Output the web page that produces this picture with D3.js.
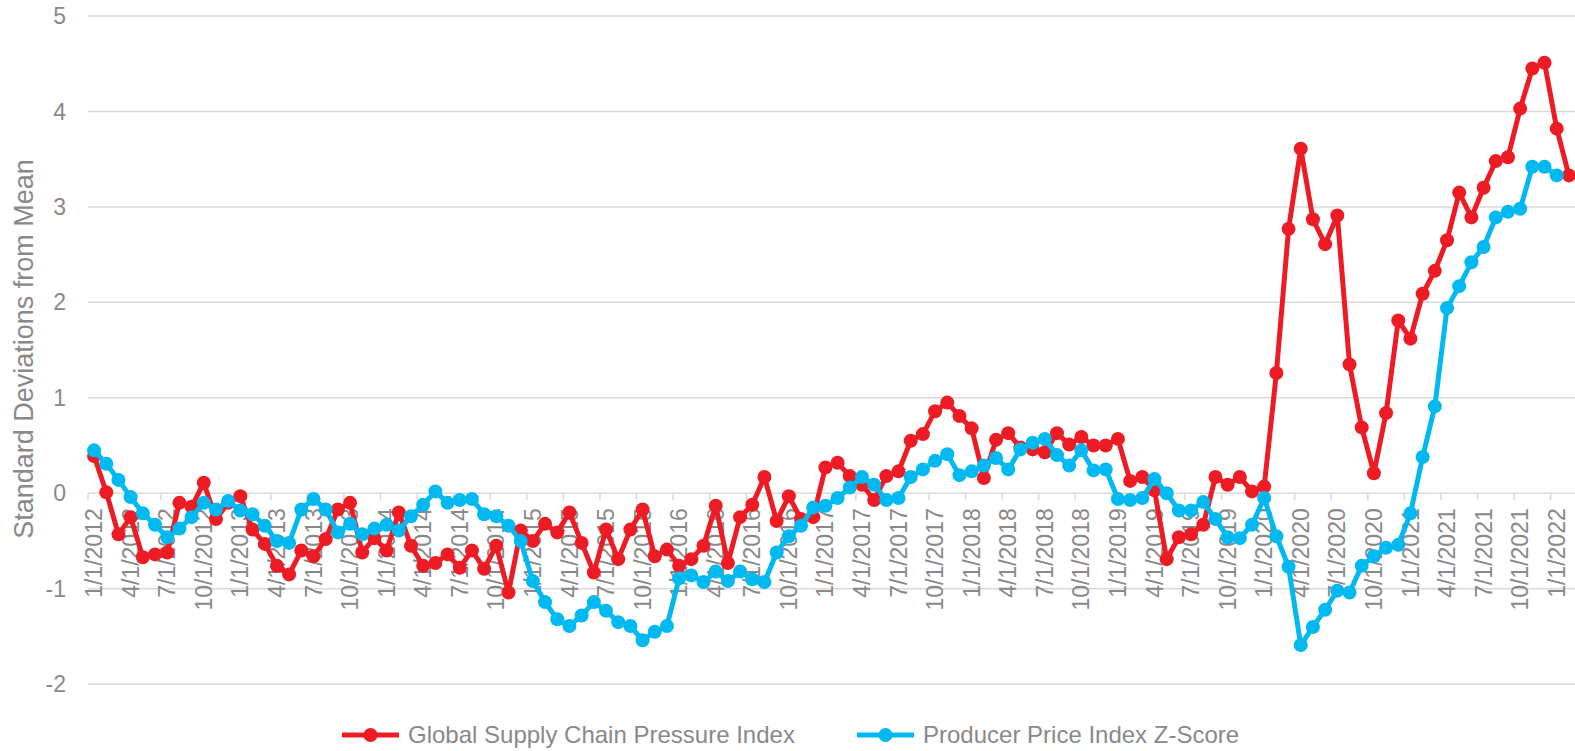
<!DOCTYPE html>
<html>
<head>
<meta charset="utf-8">
<script src="https://cdn.jsdelivr.net/npm/d3@7"></script>
<style>
  html, body { margin: 0; padding: 0; background: #fff; }
  text { font-family: "Liberation Sans", Arial, sans-serif; fill: #898989; }
</style>
</head>
<body>
<svg id="chart"></svg>
<script>
// monthly, Jan 2012 .. Feb 2022
const firstMonth = new Date(2012, 0, 1);
const lastMonth = new Date(2022, 1, 1);

const gscpi = [
  0.39, 0.01, -0.43, -0.25, -0.67, -0.64, -0.62, -0.10, -0.14, 0.11, -0.27, -0.10,
  -0.03, -0.38, -0.53, -0.76, -0.85, -0.60, -0.66, -0.48, -0.17, -0.10, -0.62, -0.47,
  -0.60, -0.20, -0.55, -0.76, -0.73, -0.64, -0.78, -0.60, -0.79, -0.55, -1.04, -0.39,
  -0.50, -0.32, -0.41, -0.20, -0.52, -0.83, -0.38, -0.69, -0.38, -0.17, -0.66, -0.59,
  -0.76, -0.69, -0.55, -0.13, -0.73, -0.25, -0.12, 0.17, -0.29, -0.03, -0.27, -0.25,
  0.27, 0.32, 0.18, 0.09, -0.07, 0.18, 0.23, 0.55, 0.62, 0.86, 0.95, 0.81,
  0.68, 0.16, 0.56, 0.63, 0.48, 0.46, 0.43, 0.63, 0.51, 0.59, 0.50, 0.50,
  0.57, 0.13, 0.17, 0.03, -0.69, -0.46, -0.43, -0.33, 0.17, 0.09, 0.17, 0.02,
  0.07, 1.26, 2.77, 3.61, 2.87, 2.61, 2.91, 1.35, 0.69, 0.21, 0.84, 1.81,
  1.62, 2.09, 2.33, 2.65, 3.15, 2.89, 3.20, 3.48, 3.52, 4.03, 4.45, 4.51,
  3.82, 3.33
];

const ppiZ = [
  0.45, 0.31, 0.14, -0.04, -0.21, -0.33, -0.46, -0.37, -0.25, -0.10, -0.17, -0.08,
  -0.18, -0.22, -0.34, -0.50, -0.52, -0.17, -0.06, -0.17, -0.41, -0.32, -0.43, -0.37,
  -0.33, -0.39, -0.24, -0.12, 0.02, -0.10, -0.07, -0.06, -0.22, -0.24, -0.34, -0.50,
  -0.92, -1.14, -1.32, -1.39, -1.28, -1.14, -1.23, -1.35, -1.39, -1.54, -1.45, -1.39,
  -0.89, -0.86, -0.93, -0.82, -0.92, -0.82, -0.90, -0.93, -0.62, -0.45, -0.34, -0.15,
  -0.13, -0.05, 0.06, 0.17, 0.09, -0.07, -0.05, 0.17, 0.25, 0.34, 0.41, 0.19,
  0.23, 0.29, 0.37, 0.25, 0.46, 0.53, 0.57, 0.40, 0.29, 0.45, 0.24, 0.25,
  -0.06, -0.07, -0.05, 0.15, 0.00, -0.18, -0.18, -0.09, -0.27, -0.46, -0.47, -0.33,
  -0.05, -0.45, -0.77, -1.59, -1.40, -1.22, -1.02, -1.04, -0.76, -0.66, -0.57, -0.54,
  -0.21, 0.38, 0.91, 1.94, 2.17, 2.42, 2.58, 2.89, 2.95, 2.98, 3.42, 3.42,
  3.33
];

const tickLabels = [
  "1/1/2012", "4/1/2012", "7/1/2012", "10/1/2012",
  "1/1/2013", "4/1/2013", "7/1/2013", "10/1/2013",
  "1/1/2014", "4/1/2014", "7/1/2014", "10/1/2014",
  "1/1/2015", "4/1/2015", "7/1/2015", "10/1/2015",
  "1/1/2016", "4/1/2016", "7/1/2016", "10/1/2016",
  "1/1/2017", "4/1/2017", "7/1/2017", "10/1/2017",
  "1/1/2018", "4/1/2018", "7/1/2018", "10/1/2018",
  "1/1/2019", "4/1/2019", "7/1/2019", "10/1/2019",
  "1/1/2020", "4/1/2020", "7/1/2020", "10/1/2020",
  "1/1/2021", "4/1/2021", "7/1/2021", "10/1/2021",
  "1/1/2022"
];
const yTicks = [-2, -1, 0, 1, 2, 3, 4, 5];

const seriesNames = ["Global Supply Chain Pressure Index", "Producer Price Index Z-Score"];
const colors = ["#ED1C24", "#00B9F1"];

const W = 1575, H = 751;
const margin = { top: 16, right: 0, bottom: 66, left: 88 };

const svg = d3.select("#chart").attr("width", W).attr("height", H);

const fmt = d3.timeFormat("%-m/%-d/%Y");
const months = d3.timeMonth.range(firstMonth, d3.timeMonth.offset(lastMonth, 1));
const cats = months.map(fmt);

const x = d3.scaleBand()
  .domain(cats)
  .range([margin.left, W - margin.right]);

const y = d3.scaleLinear()
  .domain([-2, 5])
  .range([H - margin.bottom - 0.8, margin.top]);

// gridlines
svg.append("g")
  .selectAll("line")
  .data(yTicks)
  .join("line")
  .attr("x1", margin.left)
  .attr("x2", W - margin.right)
  .attr("y1", d => y(d))
  .attr("y2", d => y(d))
  .attr("stroke", "#D9D9D9")
  .attr("stroke-width", 1.5);

// y labels
svg.append("g")
  .selectAll("text")
  .data(yTicks)
  .join("text")
  .attr("x", 66)
  .attr("y", d => y(d))
  .attr("dy", "0.35em")
  .attr("text-anchor", "end")
  .attr("font-size", 23)
  .text(d => d);

// x tick marks at category boundaries, on the zero line
const labelled = tickLabels.filter(t => cats.includes(t));
svg.append("g")
  .selectAll("line")
  .data(labelled)
  .join("line")
  .attr("x1", d => x(d))
  .attr("x2", d => x(d))
  .attr("y1", y(0))
  .attr("y2", y(0) + 7)
  .attr("stroke", "#D9D9D9")
  .attr("stroke-width", 1.5);

// x labels (rotated)
svg.append("g")
  .selectAll("text")
  .data(labelled)
  .join("text")
  .attr("transform", d => `translate(${x(d) + x.bandwidth() / 2}, ${y(0) + 15}) rotate(-90)`)
  .attr("dy", "0.35em")
  .attr("text-anchor", "end")
  .attr("font-size", 23)
  .text(d => d);

// y axis title
svg.append("text")
  .attr("transform", `translate(33, 349) rotate(-90)`)
  .attr("text-anchor", "middle")
  .attr("font-size", 27)
  .text("Standard Deviations from Mean");

// series
const cx = i => x(cats[i]) + x.bandwidth() / 2;
const line = d3.line()
  .x(d => cx(d.i))
  .y(d => y(d.v));

[gscpi, ppiZ].forEach((vals, s) => {
  const pts = vals.map((v, i) => ({ i, v }));
  const g = svg.append("g");
  g.append("path")
    .datum(pts)
    .attr("d", line)
    .attr("fill", "none")
    .attr("stroke", colors[s])
    .attr("stroke-width", 5)
    .attr("stroke-linejoin", "round");
  g.selectAll("circle")
    .data(pts)
    .join("circle")
    .attr("cx", d => cx(d.i))
    .attr("cy", d => y(d.v))
    .attr("r", 7)
    .attr("fill", colors[s]);
});

// legend
const legX = [342, 857];
const legY = 735;
seriesNames.forEach((name, s) => {
  const g = svg.append("g").attr("transform", `translate(${legX[s]}, ${legY})`);
  g.append("line")
    .attr("x1", 0).attr("x2", 57)
    .attr("stroke", colors[s])
    .attr("stroke-width", 5);
  g.append("circle")
    .attr("cx", 28.5)
    .attr("r", 7)
    .attr("fill", colors[s]);
  g.append("text")
    .attr("x", 66)
    .attr("dy", "0.35em")
    .attr("font-size", 24)
    .text(name);
});
</script>
</body>
</html>
